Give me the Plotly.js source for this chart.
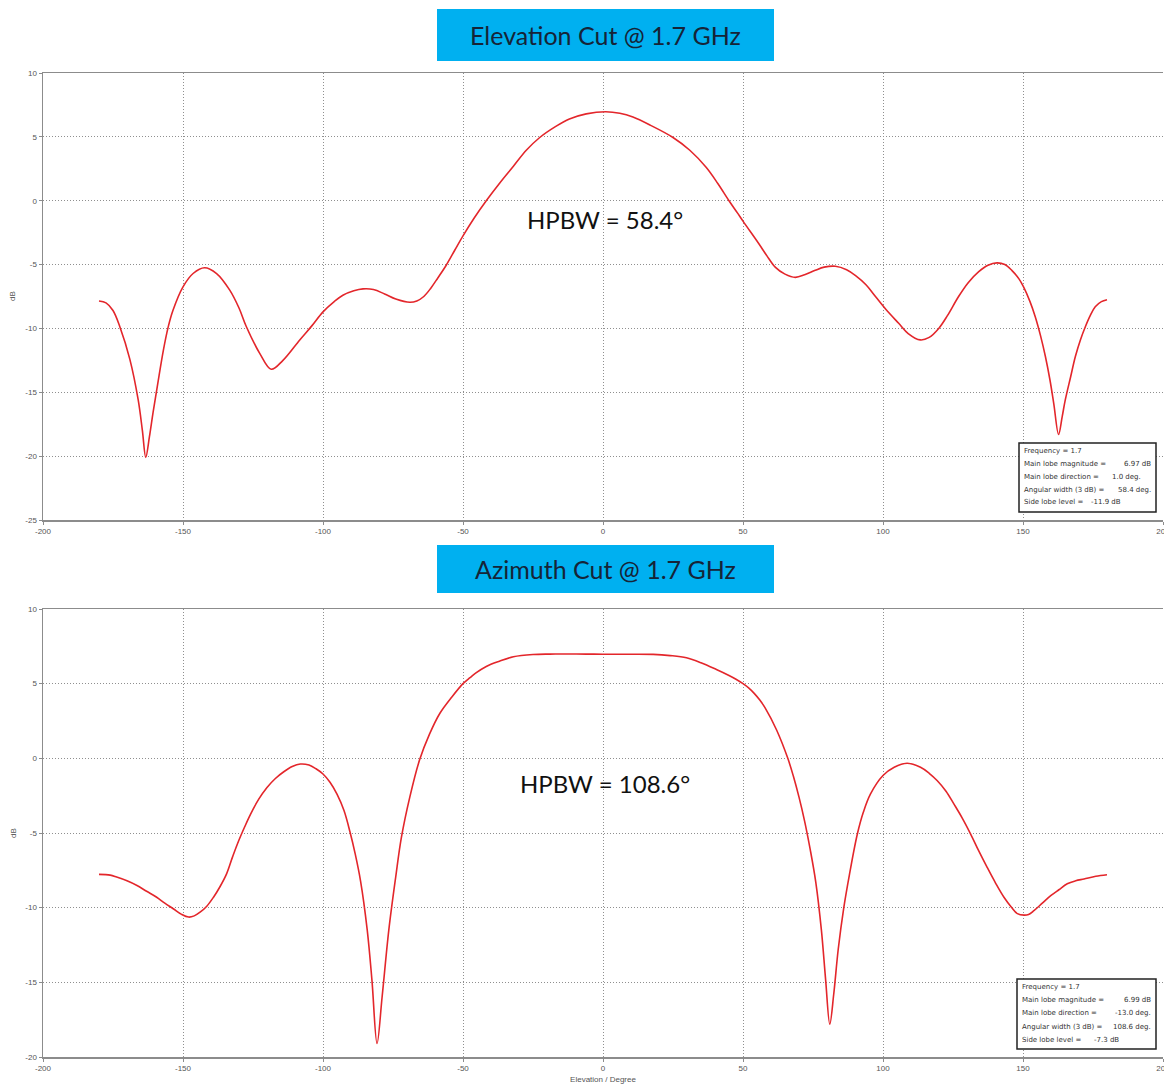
<!DOCTYPE html>
<html>
<head>
<meta charset="utf-8">
<script src="https://cdn.plot.ly/plotly-3.0.1.min.js"></script>
<style>
  html, body { margin: 0; padding: 0; background: #ffffff; }
  #chart { width: 1164px; height: 1088px; }
</style>
</head>
<body>
<div id="chart"></div>
<script>
// Elevation cut at 1.7 GHz: angle (deg) and gain (dB)
const elevAngle = [-180, -177.5, -175, -172.5, -169, -166, -164.5, -163.3, -162, -160.7,
  -159, -157, -155.3, -153.6, -150, -146.4, -142.3, -138, -133.3, -130,
  -127.4, -122.6, -118.5, -114.3, -108.3, -104, -100, -96, -92.9, -89,
  -85.7, -82, -78, -74, -69, -66.5, -64, -61.5, -59, -56,
  -53, -50, -46, -41.7, -37, -32, -27.4, -22.6, -17, -12,
  -6, 1, 6, 10.7, 17, 25, 31, 36.9, 41, 45,
  48, 50, 55.6, 58.5, 61.5, 65, 68.7, 72, 75.8, 79,
  83, 87, 90.1, 94, 97.3, 101, 105.6, 109, 113.3, 116.5,
  119.9, 123, 127, 130.5, 134.2, 137.5, 140.7, 143.5, 146, 148.5,
  150.2, 152.5, 154.4, 156.3, 158, 159.6, 161, 162.7, 164, 165.1,
  167, 168.7, 170.5, 172.3, 174, 175.8, 178, 180];
const elevGain = [-7.85, -8.0, -8.6, -9.9, -12.4, -15.6, -18.0, -20.1, -18.5, -16.6,
  -14.3, -11.7, -9.9, -8.6, -6.75, -5.7, -5.25, -5.7, -7.0, -8.4,
  -9.85, -11.95, -13.2, -12.5, -10.9, -9.8, -8.7, -7.9, -7.4, -7.05,
  -6.9, -6.95, -7.3, -7.7, -7.95, -7.85, -7.5, -6.85, -6.05, -5.05,
  -3.9, -2.75, -1.35, 0, 1.35, 2.7, 3.95, 4.95, 5.8, 6.4,
  6.8, 6.97, 6.85, 6.55, 5.9, 4.95, 3.95, 2.6, 1.35, 0,
  -0.95, -1.6, -3.35, -4.3, -5.2, -5.75, -6.0, -5.8, -5.45, -5.2,
  -5.13, -5.4, -5.85, -6.6, -7.5, -8.5, -9.6, -10.4, -10.9, -10.7,
  -10.0, -9.0, -7.5, -6.4, -5.55, -5.05, -4.87, -5.0, -5.45, -6.1,
  -6.75, -7.9, -9.1, -10.6, -12.2, -14.0, -15.9, -18.3, -16.9, -15.6,
  -13.8, -12.2, -10.9, -9.85, -9.0, -8.3, -7.9, -7.75];

// Azimuth cut at 1.7 GHz: angle (deg) and gain (dB)
const azAngle = [-180, -176, -173.7, -170, -166.6, -163, -159.4, -156.5, -153.5, -150.5,
  -148, -146, -143.9, -141.5, -139.1, -136.8, -134.4, -132.3, -130.5, -128,
  -125.9, -123, -120, -117, -114, -111, -108.1, -105, -102.5, -100,
  -97.5, -95, -92.5, -90.4, -88.5, -86.6, -84.2, -82.5, -80.7, -78.9,
  -76.5, -74, -72, -69, -65.5, -62, -58.3, -54, -50, -47.5,
  -45.5, -41.7, -37, -32, -25, -19, -13, -6, 0, 8,
  17.9, 24, 29.8, 35, 40.5, 45, 47.5, 50, 52, 54,
  56, 58, 62, 66, 68, 70, 72, 74, 76, 78,
  79.5, 81, 82.4, 84, 86, 88, 90.8, 93, 95.5, 100,
  104, 108.6, 113.4, 116.5, 119.4, 122.5, 125.3, 128.3, 131.3, 134.2,
  137.2, 140.2, 143.2, 145.8, 148, 150.4, 152, 153.9, 156.9, 159.9,
  162.8, 165.8, 168.8, 171.8, 176, 180];
const azGain = [-7.77, -7.82, -7.95, -8.2, -8.5, -8.9, -9.3, -9.7, -10.07, -10.45,
  -10.63, -10.55, -10.3, -9.9, -9.3, -8.6, -7.72, -6.6, -5.7, -4.6,
  -3.75, -2.75, -1.95, -1.35, -0.9, -0.55, -0.38, -0.45, -0.7, -1.05,
  -1.6, -2.4, -3.5, -4.9, -6.4, -8.2, -11.5, -14.9, -19.1, -16.0,
  -11.5, -7.9, -5.3, -2.6, -0.1, 1.6, 3.0, 4.1, 5.0, 5.4,
  5.7, 6.15, 6.5, 6.8, 6.95, 6.98, 6.99, 6.98, 6.97, 6.97,
  6.96, 6.88, 6.73, 6.4, 5.95, 5.55, 5.3, 5.0, 4.72, 4.35,
  3.9, 3.35, 1.9, 0.0, -1.2, -2.6, -4.2, -6.1, -8.3, -11.5,
  -14.8, -17.8, -15.8, -12.8, -10.0, -7.8, -5.1, -3.6, -2.4, -1.15,
  -0.6, -0.33, -0.6, -1.0, -1.5, -2.2, -3.05, -4.0, -5.07, -6.2,
  -7.3, -8.35, -9.3, -9.95, -10.4, -10.5, -10.45, -10.2, -9.7, -9.2,
  -8.8, -8.4, -8.2, -8.08, -7.9, -7.8];

// Axis ticks
const angleTicks = [-200, -150, -100, -50, 0, 50, 100, 150, 200];
const elevGainTicks = [-25, -20, -15, -10, -5, 0, 5, 10];
const azGainTicks = [-20, -15, -10, -5, 0, 5, 10];

// Panel headings and beamwidth labels
const panelTitles = ['Elevation Cut @ 1.7 GHz', 'Azimuth Cut @ 1.7 GHz'];
const beamLabels = ['HPBW = 58.4°', 'HPBW = 108.6°'];

// Pattern summary boxes
const statNames = ['Frequency = 1.7', 'Main lobe magnitude =', 'Main lobe direction =',
  'Angular width (3 dB) =', 'Side lobe level ='];
const elevStats = ['', '6.97 dB', '1.0 deg.', '58.4 deg.', '-11.9 dB'];
const azStats = ['', '6.99 dB', '-13.0 deg.', '108.6 deg.', '-7.3 dB'];

// Page geometry helpers (pixels -> paper fractions)
const W = 1164, H = 1088, ML = 43, MR = 1;
const PW = W - ML - MR;
const px = v => (v - ML) / PW;
const py = v => 1 - v / H;

const lineStyle = { color: '#e3262b', width: 1.6, shape: 'spline', smoothing: 1 };

const traces = [
  { x: elevAngle, y: elevGain, type: 'scatter', mode: 'lines', line: lineStyle,
    xaxis: 'x', yaxis: 'y', hoverinfo: 'x+y' },
  { x: azAngle, y: azGain, type: 'scatter', mode: 'lines', line: lineStyle,
    xaxis: 'x2', yaxis: 'y2', hoverinfo: 'x+y' }
];

const tickFont = { family: 'Liberation Sans, Arial, sans-serif', size: 8, color: '#555555' };
const gridDash = '1px,2px';

function xAxis(anchor, title) {
  return {
    anchor: anchor, domain: [0, 1], range: [-200, 200],
    tickmode: 'array', tickvals: angleTicks, ticktext: angleTicks.map(String),
    ticklabeloverflow: 'allow',
    showgrid: true, gridcolor: '#8f8f8f', griddash: gridDash, gridwidth: 1,
    zeroline: false, showline: true, linecolor: '#8c8c8c', linewidth: 1.5, mirror: true,
    ticks: 'outside', ticklen: 3, tickcolor: '#8c8c8c', tickfont: tickFont,
    title: { text: title, font: { family: 'Liberation Sans, Arial, sans-serif', size: 8, color: '#555555' }, standoff: 4 }
  };
}
function yAxis(anchor, domain, range, ticks) {
  return {
    anchor: anchor, domain: domain, range: range,
    tickmode: 'array', tickvals: ticks, ticktext: ticks.map(String),
    ticklabeloverflow: 'allow',
    showgrid: true, gridcolor: '#8f8f8f', griddash: gridDash, gridwidth: 1,
    zeroline: false, showline: true, linecolor: '#8c8c8c', linewidth: 1.5,
    ticks: 'outside', ticklen: 3, tickcolor: '#8c8c8c', tickfont: tickFont,
    title: { text: '', font: tickFont }
  };
}

const shapes = [];
const annotations = [];

// Blue heading boxes
const headBoxes = [[437, 9, 774, 61], [437, 545, 774, 593]];
headBoxes.forEach((b, i) => {
  shapes.push({ type: 'rect', xref: 'paper', yref: 'paper',
    x0: px(b[0]), x1: px(b[2]), y0: py(b[3]), y1: py(b[1]),
    fillcolor: '#00b0f0', line: { width: 0 }, layer: 'above' });
  annotations.push({ xref: 'paper', yref: 'paper', x: px((b[0] + b[2]) / 2), y: py((b[1] + b[3]) / 2),
    text: panelTitles[i], showarrow: false, xanchor: 'center', yanchor: 'middle',
    font: { family: 'Lato, Open Sans, sans-serif', size: 25, color: '#162437' } });
});

// Beamwidth labels
const beamPos = [[605, 220], [605, 783]];
beamPos.forEach((p, i) => {
  annotations.push({ xref: 'paper', yref: 'paper', x: px(p[0]), y: py(p[1]),
    text: beamLabels[i], showarrow: false, xanchor: 'center', yanchor: 'middle',
    font: { family: 'Lato, Open Sans, sans-serif', size: 24, color: '#111111' } });
});

// y-axis unit labels
[[13, 296], [13, 833]].forEach(p => {
  annotations.push({ xref: 'paper', yref: 'paper', x: px(p[0]), y: py(p[1]),
    text: 'dB', showarrow: false, textangle: -90, xanchor: 'center', yanchor: 'middle',
    font: { family: 'Liberation Sans, Arial, sans-serif', size: 8, color: '#555555' } });
});

// Summary boxes: labels left-aligned, values right-aligned
const statBoxes = [
  { box: [1019, 443, 1156, 512], lineY: [450.7, 464.3, 477.3, 490, 501.7], labelX: 1022.5,
    valueEnd: [0, 1152, 1142, 1152, 1122], values: elevStats },
  { box: [1017, 979, 1156, 1049], lineY: [986.7, 1000, 1013.3, 1026.7, 1040], labelX: 1020.5,
    valueEnd: [0, 1152, 1152, 1152, 1120], values: azStats }
];
const statFont = { family: 'DejaVu Sans, Verdana, sans-serif', size: 7, color: '#333333' };
statBoxes.forEach(s => {
  shapes.push({ type: 'rect', xref: 'paper', yref: 'paper',
    x0: px(s.box[0]), x1: px(s.box[2]), y0: py(s.box[3]), y1: py(s.box[1]),
    fillcolor: '#ffffff', line: { color: '#222222', width: 1.5 }, layer: 'above' });
  statNames.forEach((name, k) => {
    annotations.push({ xref: 'paper', yref: 'paper', x: px(s.labelX), y: py(s.lineY[k]),
      text: name, showarrow: false, xanchor: 'left', yanchor: 'middle', font: statFont,
      borderpad: 0 });
    if (s.values[k]) {
      annotations.push({ xref: 'paper', yref: 'paper', x: px(s.valueEnd[k]), y: py(s.lineY[k]),
        text: s.values[k], showarrow: false, xanchor: 'right', yanchor: 'middle', font: statFont,
        borderpad: 0 });
    }
  });
});

const layout = {
  width: W, height: H,
  margin: { l: ML, r: MR, t: 0, b: 0 },
  paper_bgcolor: '#ffffff', plot_bgcolor: '#ffffff',
  showlegend: false,
  xaxis: xAxis('y', ''),
  yaxis: yAxis('x', [py(520), py(73)], [-25, 10], elevGainTicks),
  xaxis2: xAxis('y2', 'Elevation / Degree'),
  yaxis2: yAxis('x2', [py(1057), py(609)], [-20, 10], azGainTicks),
  shapes: shapes,
  annotations: annotations
};

Plotly.newPlot('chart', traces, layout, { displayModeBar: false, staticPlot: true });
</script>
</body>
</html>
